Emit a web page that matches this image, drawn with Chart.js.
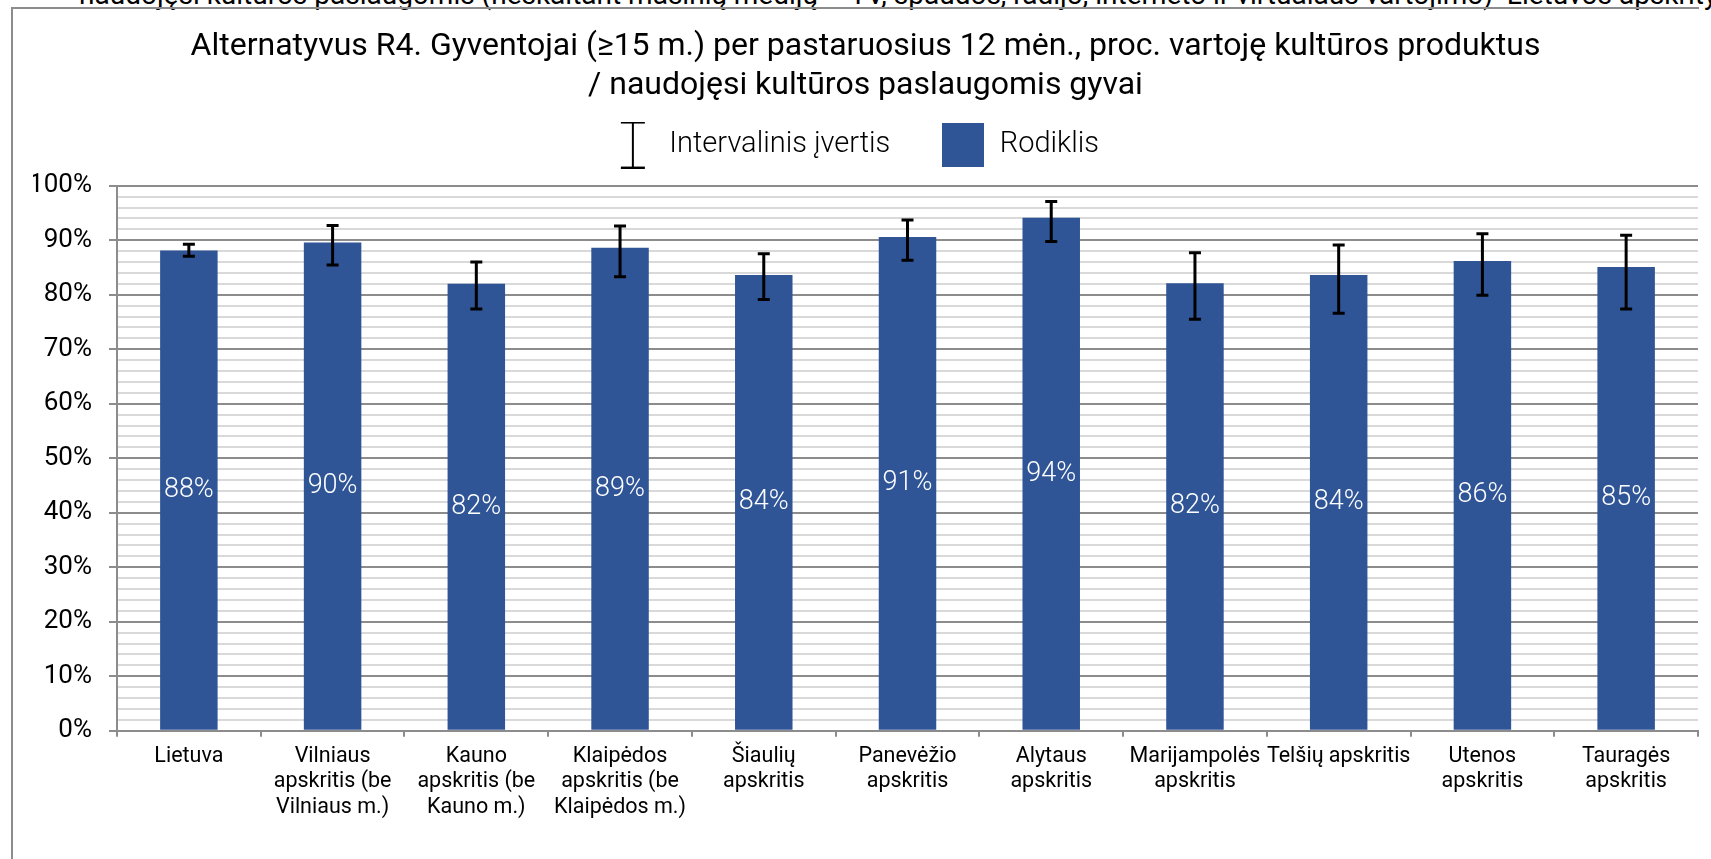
<!DOCTYPE html>
<html>
<head>
<meta charset="utf-8">
<script src="https://cdn.jsdelivr.net/npm/chart.js@4.4.0/dist/chart.umd.min.js"></script>
<style>
  html, body { margin: 0; padding: 0; background: #fff; overflow: hidden; }
  body { width: 1711px; height: 859px; position: relative; }
  #above { position: absolute; left: 79px; top: -19px; font: 28px/28px Roboto, sans-serif; color: #000; white-space: nowrap; }
  #frame { position: absolute; left: 11px; top: 7px; width: 1686px; height: 870px; border-left: 2px solid #8c8c8c; border-top: 2px solid #8c8c8c; }
  canvas { position: absolute; left: 0; top: 0; }
</style>
</head>
<body>
<div id="above">naudojęsi kultūros paslaugomis (neskaitant masinių medijų – TV, spaudos, radijo, interneto ir virtualaus vartojimo)&nbsp;&nbsp;Lietuvos apskrityse</div>
<div id="frame"></div>
<canvas id="chart" width="1711" height="859"></canvas>
<script>
const titleLines = [
  'Alternatyvus R4. Gyventojai (≥15 m.) per pastaruosius 12 mėn., proc. vartoję kultūros produktus',
  '/ naudojęsi kultūros paslaugomis gyvai'
];
const seriesNames = ['Intervalinis įvertis', 'Rodiklis'];

const categories = [
  ['Lietuva'],
  ['Vilniaus', 'apskritis (be', 'Vilniaus m.)'],
  ['Kauno', 'apskritis (be', 'Kauno m.)'],
  ['Klaipėdos', 'apskritis (be', 'Klaipėdos m.)'],
  ['Šiaulių', 'apskritis'],
  ['Panevėžio', 'apskritis'],
  ['Alytaus', 'apskritis'],
  ['Marijampolės', 'apskritis'],
  ['Telšių apskritis'],
  ['Utenos', 'apskritis'],
  ['Tauragės', 'apskritis']
];

// Rodiklis (%)
const rodiklis = [88.1, 89.6, 82.0, 88.6, 83.6, 90.6, 94.1, 82.1, 83.6, 86.2, 85.1];
// intervalinis įvertis: apatinė ir viršutinė ribos (%)
const lower = [87.05, 85.45, 77.4, 83.3, 79.1, 86.3, 89.75, 75.5, 76.6, 79.9, 77.4];
const upper = [89.25, 92.7, 86.0, 92.6, 87.5, 93.7, 97.1, 87.7, 89.1, 91.2, 90.9];

const barColor = '#2F5597';
const axisGrey = '#8c8c8c';
const minorGrey = '#d9d9d9';

// legend symbols
const ibeam = document.createElement('canvas');
ibeam.width = 26; ibeam.height = 47;
(function () {
  const c = ibeam.getContext('2d');
  c.strokeStyle = '#000';
  c.lineWidth = 2;
  c.beginPath();
  c.moveTo(13, 1); c.lineTo(13, 46);
  c.moveTo(1, 1); c.lineTo(25, 1);
  c.moveTo(1, 46); c.lineTo(25, 46);
  c.stroke();
})();

const square = document.createElement('canvas');
square.width = 42; square.height = 44;
(function () {
  const c = square.getContext('2d');
  c.fillStyle = barColor;
  c.fillRect(0, 0, 42, 44);
})();

// error bars, drawn through the chart scales
const errorBars = {
  id: 'errorBars',
  afterDatasetsDraw(chart) {
    const { ctx, scales: { x, y } } = chart;
    ctx.save();
    ctx.strokeStyle = '#000';
    ctx.lineWidth = 3;
    rodiklis.forEach((v, i) => {
      const px = x.getPixelForValue(i);
      const top = y.getPixelForValue(upper[i]);
      const bot = y.getPixelForValue(lower[i]);
      ctx.beginPath();
      ctx.moveTo(px, top); ctx.lineTo(px, bot);
      ctx.moveTo(px - 6, top); ctx.lineTo(px + 6, top);
      ctx.moveTo(px - 6, bot); ctx.lineTo(px + 6, bot);
      ctx.stroke();
    });
    ctx.restore();
  }
};

// value labels in the middle of bars
const barLabels = {
  id: 'barLabels',
  afterDatasetsDraw(chart) {
    const ctx = chart.ctx;
    const meta = chart.getDatasetMeta(0);
    ctx.save();
    ctx.font = '300 27px Roboto';
    ctx.fillStyle = '#fff';
    ctx.textAlign = 'center';
    ctx.textBaseline = 'middle';
    meta.data.forEach((bar, i) => {
      ctx.fillText(Math.round(rodiklis[i]) + '%', bar.x, (bar.y + bar.base) / 2);
    });
    ctx.restore();
  }
};

const isMajor = c => c.tick && c.tick.value % 10 === 0;

new Chart(document.getElementById('chart'), {
  type: 'bar',
  data: {
    labels: categories,
    datasets: [{
      label: seriesNames[1],
      data: rodiklis,
      backgroundColor: barColor,
      barPercentage: 0.4,
      categoryPercentage: 1
    }]
  },
  options: {
    responsive: false,
    animation: false,
    layout: { padding: { left: 33, right: 13, top: 0, bottom: 0 } },
    plugins: {
      title: {
        display: true,
        text: titleLines,
        color: '#000',
        font: { family: 'Roboto', size: 32, weight: '400', lineHeight: 1.197 },
        padding: { top: 28.3, bottom: -25.4 }
      },
      legend: {
        position: 'top',
        onClick: () => {},
        labels: {
          usePointStyle: true,
          pointStyleWidth: 44,
          padding: 51,
          color: '#000',
          font: { family: 'Roboto', size: 29, weight: '300' },
          generateLabels: () => [
            { text: seriesNames[0], pointStyle: ibeam, fillStyle: '#000', strokeStyle: '#000', lineWidth: 0, hidden: false, datasetIndex: 0 },
            // trailing spaces keep the legend a little left of the title centre, as in the original
            { text: seriesNames[1] + '   ', pointStyle: square, fillStyle: barColor, strokeStyle: barColor, lineWidth: 0, hidden: false, datasetIndex: 0 }
          ]
        }
      },
      tooltip: { enabled: false }
    },
    scales: {
      x: {
        grid: { display: true, drawOnChartArea: false, offset: true, tickLength: 6, color: axisGrey, lineWidth: 2 },
        border: { color: axisGrey, width: 2 },
        ticks: {
          color: '#000', padding: 7, autoSkip: false, maxRotation: 0,
          font: { family: 'Roboto', size: 21.5, lineHeight: 1.19 }
        },
        afterFit: s => { s.height = 128.3; }
      },
      x2: {
        type: 'category',
        position: 'top',
        grid: { display: false },
        border: { display: false },
        ticks: { display: false },
        afterFit: s => { s.height = 16.2; }
      },
      y: {
        min: 0,
        max: 100,
        ticks: {
          stepSize: 2, maxTicksLimit: 51, autoSkip: false, padding: 17, color: '#000',
          font: { family: 'Roboto', size: 26 },
          callback: v => (v % 10 === 0 ? v + '%' : '')
        },
        grid: {
          color: c => (isMajor(c) ? axisGrey : minorGrey),
          tickColor: c => (isMajor(c) ? axisGrey : 'rgba(0,0,0,0)'),
          lineWidth: 2,
          tickLength: 8
        },
        border: { color: axisGrey, width: 2 },
        afterFit: s => { s.width = 84; }
      }
    }
  },
  plugins: [errorBars, barLabels]
});
</script>
</body>
</html>
